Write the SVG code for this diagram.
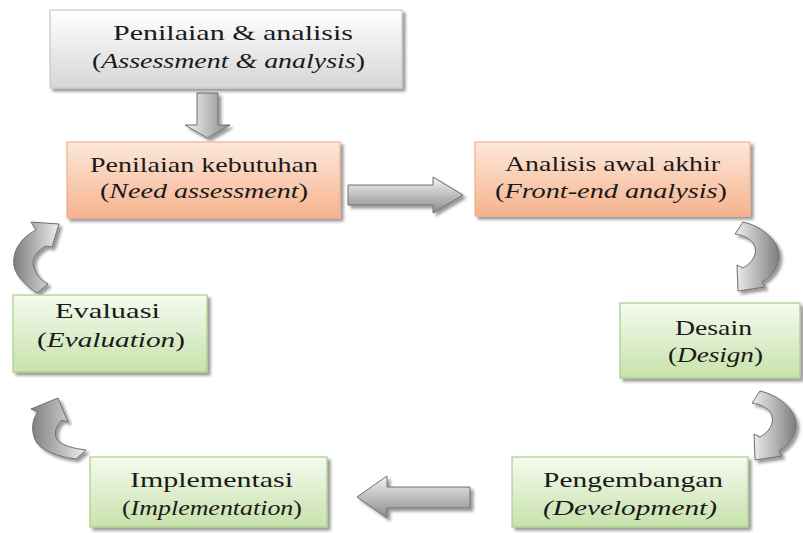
<svg xmlns="http://www.w3.org/2000/svg" width="803" height="533" viewBox="0 0 803 533">
  <defs>
    <linearGradient id="gGray" x1="0" y1="0" x2="0" y2="1">
      <stop offset="0" stop-color="#ffffff"/>
      <stop offset="1" stop-color="#d6d6d6"/>
    </linearGradient>
    <linearGradient id="gOrange" x1="0" y1="0" x2="0" y2="1">
      <stop offset="0" stop-color="#fde8db"/>
      <stop offset="1" stop-color="#f5b38d"/>
    </linearGradient>
    <linearGradient id="gGreen" x1="0" y1="0" x2="0" y2="1">
      <stop offset="0" stop-color="#f5faef"/>
      <stop offset="1" stop-color="#c8e2ac"/>
    </linearGradient>
    <linearGradient id="aV" x1="0" y1="0" x2="0" y2="1">
      <stop offset="0" stop-color="#f4f4f4"/>
      <stop offset="1" stop-color="#8a8a8a"/>
    </linearGradient>
    <linearGradient id="aH" x1="0" y1="0" x2="1" y2="0">
      <stop offset="0" stop-color="#f4f4f4"/>
      <stop offset="1" stop-color="#8a8a8a"/>
    </linearGradient>
    <linearGradient id="aR" x1="0" y1="0" x2="1" y2="0">
      <stop offset="0" stop-color="#eeeeee"/>
      <stop offset="1" stop-color="#7e7e7e"/>
    </linearGradient>
    <linearGradient id="aL" x1="1" y1="0" x2="0" y2="0">
      <stop offset="0" stop-color="#eeeeee"/>
      <stop offset="1" stop-color="#7e7e7e"/>
    </linearGradient>
    <filter id="sh" x="-10%" y="-10%" width="125%" height="130%">
      <feDropShadow dx="3" dy="3" stdDeviation="1.5" flood-color="#000" flood-opacity="0.4"/>
    </filter>
  </defs>
  <style>
    .box { stroke-width: 1.2; filter: url(#sh); }
    .gray { fill: url(#gGray); stroke: #c9c9c9; }
    .orange { fill: url(#gOrange); stroke: #f2b08a; }
    .green { fill: url(#gGreen); stroke: #a6cf86; }
    .i { font-style: italic; }
    .arr { stroke: #6e6e6e; stroke-width: 1; filter: url(#sh); }
  </style>

  <g id="connectors">
    <path class="arr" fill="url(#aH)" d="M197 93 H218 V125 H230 L207.5 138 L185 125 H197 Z"/>
    <path class="arr" fill="url(#aV)" d="M348 185 H433 V177 L463 195 L433 213 V205 H348 Z"/>
    <path class="arr" fill="url(#aV)" d="M470 487 V508 H387 V518 L357 497 L387 476 V487 Z"/>
    <path class="arr" fill="url(#aR)" d="M743 222 C765 227 780 243 779 257 C778 269 770 277 762 282 L765 287 L738 291 L737 265 L743 268 C752 263 757 255 755 247 C753 240 744 235 735 234 Z"/>
    <path class="arr" fill="url(#aR)" transform="translate(17,169)" d="M743 222 C765 227 780 243 779 257 C778 269 770 277 762 282 L765 287 L738 291 L737 265 L743 268 C752 263 757 255 755 247 C753 240 744 235 735 234 Z"/>
    <path class="arr" fill="url(#aL)" d="M59 224 L52 247 L46 246 C38 250 32 258 33 264 C34 272 40 280 48 284 L37 293 C28 287 16 277 14 266 C12 252 20 238 36 230 L31 222 Z"/>
    <path class="arr" fill="url(#aL)" d="M58 398 L68 422 L62 420 C57 424 54 432 56 437 C58 444 70 448 86 450 L76 459 C60 457 44 452 37 443 C31 434 31 420 38 412 L31 409 Z"/>
  </g>

  <g font-family="Liberation Serif, Times New Roman, DejaVu Serif, Noto Serif, serif" font-size="22" fill="#1a1a1a">
  <g id="assessment">
    <rect class="box gray" x="50" y="10" width="352" height="78"/>
    <text x="113" y="40" textLength="240" lengthAdjust="spacingAndGlyphs">Penilaian &amp; analisis</text>
    <text x="92" y="68" textLength="273" lengthAdjust="spacingAndGlyphs">(<tspan class="i">Assessment &amp; analysis</tspan>)</text>
  </g>

  <g id="need">
    <rect class="box orange" x="67" y="142" width="273" height="76"/>
    <text x="90" y="172" textLength="228" lengthAdjust="spacingAndGlyphs">Penilaian kebutuhan</text>
    <text x="100" y="198" textLength="208" lengthAdjust="spacingAndGlyphs">(<tspan class="i">Need assessment</tspan>)</text>
  </g>

  <g id="frontend">
    <rect class="box orange" x="475" y="142" width="275" height="74"/>
    <text x="505" y="171" textLength="215" lengthAdjust="spacingAndGlyphs">Analisis awal akhir</text>
    <text x="495" y="198" textLength="232" lengthAdjust="spacingAndGlyphs">(<tspan class="i">Front-end analysis</tspan>)</text>
  </g>

  <g id="design">
    <rect class="box green" x="620" y="303" width="180" height="75"/>
    <text x="675" y="335" textLength="77" lengthAdjust="spacingAndGlyphs">Desain</text>
    <text x="668" y="362" textLength="95" lengthAdjust="spacingAndGlyphs">(<tspan class="i">Design</tspan>)</text>
  </g>

  <g id="development">
    <rect class="box green" x="512" y="457" width="236" height="70"/>
    <text x="543" y="487" textLength="180" lengthAdjust="spacingAndGlyphs">Pengembangan</text>
    <text class="i" x="543" y="515" textLength="174" lengthAdjust="spacingAndGlyphs">(Development)</text>
  </g>

  <g id="implementation">
    <rect class="box green" x="90" y="457" width="237" height="70"/>
    <text x="130" y="487" textLength="163" lengthAdjust="spacingAndGlyphs">Implementasi</text>
    <text x="122" y="515" textLength="180" lengthAdjust="spacingAndGlyphs">(<tspan class="i">Implementation</tspan>)</text>
  </g>

  <g id="evaluation">
    <rect class="box green" x="13" y="295" width="194" height="77"/>
    <text x="55" y="318" textLength="105" lengthAdjust="spacingAndGlyphs">Evaluasi</text>
    <text x="37" y="347" textLength="148" lengthAdjust="spacingAndGlyphs">(<tspan class="i">Evaluation</tspan>)</text>
  </g>
  </g>
</svg>
